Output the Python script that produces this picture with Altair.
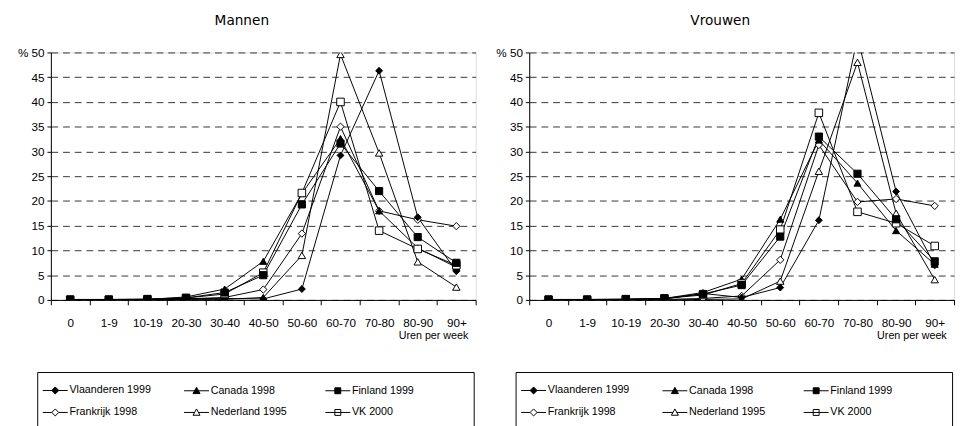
import altair as alt
import pandas as pd

categories = ["0", "1-9", "10-19", "20-30", "30-40", "40-50", "50-60", "60-70", "70-80", "80-90", "90+"]
series = ["Vlaanderen 1999", "Canada 1998", "Finland 1999", "Frankrijk 1998", "Nederland 1995", "VK 2000"]
draw_rank = [4, 3, 6, 2, 1, 5]  # which marker ends on top (Finland drawn last)

# Mannen
m_vlaanderen = [0.0, 0.0, 0.0, 0.3, 0.3, 0.2, 2.2, 29.2, 46.3, 16.7, 5.8]
m_canada = [0.0, 0.0, 0.1, 0.6, 2.2, 7.8, 21.5, 32.6, 18.0, 10.5, 6.6]
m_finland = [0.1, 0.1, 0.2, 0.4, 1.5, 5.0, 19.3, 31.6, 22.0, 12.7, 7.5]
m_frankrijk = [0.0, 0.0, 0.0, 0.2, 0.5, 2.1, 13.4, 35.0, 18.0, 16.2, 14.9]
m_nederland = [0.0, 0.0, 0.0, 0.1, 0.1, 0.5, 9.0, 49.6, 29.7, 7.7, 2.6]
m_vk = [0.0, 0.0, 0.1, 0.4, 1.2, 5.5, 21.6, 40.0, 14.0, 10.3, 7.0]

# Vrouwen
v_vlaanderen = [0.0, 0.0, 0.0, 0.2, 1.3, 0.5, 2.5, 16.1, 53.0, 21.9, 7.0]
v_canada = [0.0, 0.0, 0.1, 0.3, 1.5, 4.2, 16.3, 32.3, 23.6, 14.0, 7.2]
v_finland = [0.1, 0.1, 0.2, 0.3, 1.2, 3.0, 12.8, 33.0, 25.5, 16.3, 7.8]
v_frankrijk = [0.0, 0.0, 0.0, 0.1, 0.3, 0.8, 8.1, 31.3, 19.8, 20.4, 19.0]
v_nederland = [0.0, 0.0, 0.0, 0.0, 0.1, 0.2, 3.8, 26.0, 48.0, 17.5, 4.1]
v_vk = [0.0, 0.0, 0.1, 0.3, 1.0, 3.3, 14.2, 37.8, 17.8, 15.5, 10.9]

mannen = [m_vlaanderen, m_canada, m_finland, m_frankrijk, m_nederland, m_vk]
vrouwen = [v_vlaanderen, v_canada, v_finland, v_frankrijk, v_nederland, v_vk]

FONT = "Liberation Sans Narrow, Liberation Sans, Arial"

point_shapes = ["diamond", "triangle-up", "square", "diamond", "triangle-up", "square"]
point_fills = ["black", "black", "black", "white", "white", "white"]
point_sizes = [50, 60, 60, 50, 60, 64]
legend_paths = [
    "M-1.6,0L1.6,0M0,-0.45L0.45,0L0,0.45L-0.45,0Z",
    "M-1.6,0L1.6,0M0,-0.45L0.45,0.36L-0.45,0.36Z",
    "M-1.6,0L1.6,0M-0.38,-0.38L0.38,-0.38L0.38,0.38L-0.38,0.38Z",
    "M-1.6,0L-0.45,0M0.45,0L1.6,0M0,-0.45L0.45,0L0,0.45L-0.45,0Z",
    "M-1.6,0L-0.25,0M0.25,0L1.6,0M0,-0.45L0.45,0.36L-0.45,0.36Z",
    "M-1.6,0L1.6,0M-0.38,-0.38L0.38,-0.38L0.38,0.38L-0.38,0.38Z",
]


def make_df(values):
    rows = []
    for s, z, vals in zip(series, draw_rank, values):
        for i, (c, v) in enumerate(zip(categories, vals)):
            rows.append({"series": s, "z": z, "cat": c, "idx": i, "value": v})
    return pd.DataFrame(rows)


W = 436
H = 254


def panel(values, title):
    df = make_df(values)
    base = alt.Chart(df)
    x = alt.X(
        "cat:N",
        sort=categories,
        scale=alt.Scale(domain=categories, paddingInner=0, paddingOuter=0),
        axis=alt.Axis(
            title="Uren per week",
            labelAngle=0,
            tickBand="extent",
            tickSize=5,
            tickColor="black",
            domainColor="black",
            labelPadding=13,
            labelFont=FONT,
            labelFontSize=12,
            labelColor="black",
            titleFont=FONT,
            titleFontSize=11,
            titleFontWeight="normal",
            titleColor="black",
            titleAlign="right",
            titleBaseline="top",
            titleX=W - 8,
            titleY=31,
            grid=False,
        ),
    )
    y = alt.Y(
        "value:Q",
        scale=alt.Scale(domain=[0, 50], nice=False, zero=True),
        axis=alt.Axis(
            title=None,
            values=list(range(0, 51, 5)),
            tickSize=4,
            tickColor="black",
            domainColor="black",
            labelPadding=3,
            labelFont=FONT,
            labelFontSize=12,
            labelColor="black",
            labelExpr="datum.value == 50 ? '% 50' : datum.label",
            grid=True,
            gridDash=[7, 5],
            gridColor="#333333",
            gridWidth=1,
        ),
    )
    lines = base.mark_line(color="black", strokeWidth=1, clip=True).encode(
        x=x, y=y, detail="series:N", order=alt.Order("idx:Q")
    )
    points = base.mark_point(filled=True, stroke="black", strokeWidth=1, opacity=1, clip=True).encode(
        x=x,
        y=y,
        shape=alt.Shape("series:N", scale=alt.Scale(domain=series, range=point_shapes), legend=None),
        fill=alt.Fill("series:N", scale=alt.Scale(domain=series, range=point_fills), legend=None),
        size=alt.Size("series:N", scale=alt.Scale(domain=series, range=point_sizes), legend=None),
        order=alt.Order("z:Q"),
    )
    legend = alt.Legend(
        orient="none",
        legendX=-14,
        legendY=328,
        columns=3,
        direction="horizontal",
        gridAlign="all",
        columnPadding=31,
        rowPadding=8,
        padding=10,
        strokeColor="black",
        symbolSize=256,
        symbolStrokeWidth=1,
        symbolStrokeColor="black",
        symbolOpacity=1,
        labelFont=FONT,
        labelFontSize=11,
        labelColor="black",
        labelOffset=6,
        title="X",
        titleOrient="right",
        titleColor="white",
        titleFont=FONT,
        titleFontSize=11,
        titlePadding=43,
    )
    legend_layer = base.mark_point(filled=True, opacity=1).encode(
        x=x,
        y=y,
        shape=alt.Shape("series:N", scale=alt.Scale(domain=series, range=legend_paths), legend=legend),
        fill=alt.Fill("series:N", scale=alt.Scale(domain=series, range=point_fills), legend=legend),
        stroke=alt.Stroke("series:N", scale=alt.Scale(domain=series, range=["black"] * 6), legend=legend),
    ).transform_filter("false")
    return (
        alt.layer(lines, points, legend_layer)
        .resolve_scale(shape="independent", fill="independent", stroke="independent")
        .properties(
            width=W,
            height=H,
            title=alt.Title(
                title,
                font="DejaVu Sans",
                fontSize=14,
                fontWeight="normal",
                color="black",
                offset=14,
                frame="group",
                dx=-22,
                dy=-5,
            ),
        )
    )


chart = (
    alt.hconcat(panel(mannen, "Mannen"), panel(vrouwen, "Vrouwen"), spacing=19)
    .resolve_scale(shape="independent", fill="independent", size="independent", stroke="independent")
    .properties(padding={"left": 9, "top": 0, "right": 0, "bottom": 0})
    .configure_view(stroke="black", strokeWidth=1)
    .configure(background="white")
)

chart.save("out.html", embed_options={"renderer": "svg", "actions": False})
